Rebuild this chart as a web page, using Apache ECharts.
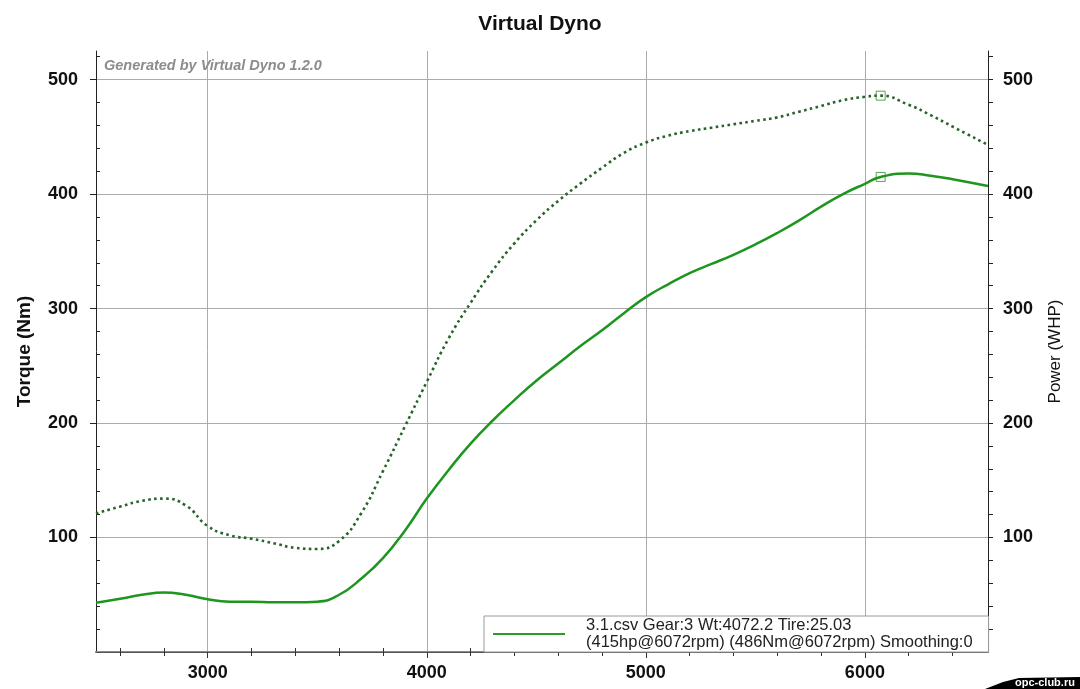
<!DOCTYPE html>
<html>
<head>
<meta charset="utf-8">
<script src="https://cdn.jsdelivr.net/npm/echarts@6/dist/echarts.min.js"></script>
<style>html,body{margin:0;padding:0;background:#fff}#c{width:1080px;height:689px}</style>
</head>
<body>
<div id="c"></div>
<script>
var rpm = [2490, 2600, 2700, 2800, 2900, 3000, 3100, 3200, 3300, 3400, 3500, 3600, 3700, 3800, 3900, 4000, 4100, 4200, 4300, 4400, 4500, 4600, 4700, 4800, 4900, 5000, 5100, 5200, 5300, 5400, 5500, 5600, 5700, 5800, 5900, 6000, 6072, 6200, 6300, 6400, 6562];
var torqueNm = [121, 127, 132, 134, 128, 110, 102, 99, 95, 91, 90, 97, 121, 158, 197, 236, 274, 305, 333, 357, 377, 394, 409, 423, 436, 445, 451, 455, 458, 461, 464, 467, 472, 477, 482, 485, 486, 478, 469, 459, 443];
var powerWhp = [43, 46.5, 50, 52, 50, 46, 44, 44, 43.5, 43.5, 44, 50, 64, 82, 106, 134, 159, 182, 202, 220, 237, 252, 267, 281, 296, 310, 321, 331, 339, 347, 356, 366, 377, 389, 400, 409, 415, 418, 416, 413, 407];
var peakRpm = [6072];
var peakTorque = [486];
var peakPower = [415];
var xMajorTicks = [3000, 4000, 5000, 6000];
var xMinorTicks = [2600, 2800, 3200, 3400, 3600, 3800, 4200, 4400, 4600, 4800, 5200, 5400, 5600, 5800, 6200, 6400];
var xAllTicks = [2600, 2800, 3000, 3200, 3400, 3600, 3800, 4000, 4200, 4400, 4600, 4800, 5000, 5200, 5400, 5600, 5800, 6000, 6200, 6400];
var yMajorTicks = [100, 200, 300, 400, 500];
var yMinorTicks = [20, 40, 60, 80, 120, 140, 160, 180, 220, 240, 260, 280, 320, 340, 360, 380, 420, 440, 460, 480, 520];
var yAllTicks = [20, 40, 60, 80, 100, 120, 140, 160, 180, 200, 220, 240, 260, 280, 300, 320, 340, 360, 380, 400, 420, 440, 460, 480, 500, 520];
var legendName = '3.1.csv Gear:3 Wt:4072.2 Tire:25.03\n(415hp@6072rpm) (486Nm@6072rpm) Smoothing:0';

function zip(a, b) { return a.map(function (v, i) { return [v, b[i]]; }); }
function plain(v) { return String(v); }

var X_MIN = 2490, X_MAX = 6562, Y_MIN = 0, Y_MAX = 525;
var FONT = 'Liberation Sans, Arial, sans-serif';

var chart = echarts.init(document.getElementById('c'), null, {renderer: 'canvas'});
chart.setOption({
  animation: false,
  backgroundColor: '#fff',
  title: {
    text: 'Virtual Dyno', left: 'center', top: 9,
    textStyle: {fontFamily: FONT, fontSize: 21, fontWeight: 'bold', color: '#111'}
  },
  grid: {left: 96, right: 92, top: 51, bottom: 37, containLabel: false, outerBoundsMode: 'none'},
  xAxis: [
    {
      type: 'value', position: 'bottom', min: X_MIN, max: X_MAX,
      axisLine: {show: true, lineStyle: {color: '#8a8a8a', width: 2}},
      axisTick: {show: true, customValues: xMajorTicks, length: 6, lineStyle: {color: '#333'}},
      axisLabel: {customValues: xMajorTicks, formatter: plain, fontFamily: FONT, fontSize: 18, fontWeight: 'bold', color: '#111', margin: 12},
      splitLine: {show: true, lineStyle: {color: '#ababab', width: 1}}
    },
    {
      type: 'value', position: 'bottom', min: X_MIN, max: X_MAX,
      axisLine: {show: false},
      axisTick: {show: true, customValues: xMinorTicks, inside: true, length: 4, lineStyle: {color: '#333'}},
      axisLabel: {show: false}, splitLine: {show: false}
    },
    {
      type: 'value', position: 'top', min: X_MIN, max: X_MAX,
      axisLine: {show: true, lineStyle: {color: '#555', width: 1}},
      axisTick: {show: true, customValues: xAllTicks, inside: true, length: 4, lineStyle: {color: '#333'}},
      axisLabel: {show: false}, splitLine: {show: false}
    }
  ],
  yAxis: [
    {
      type: 'value', position: 'left', min: Y_MIN, max: Y_MAX,
      name: 'Torque (Nm)', nameLocation: 'middle', nameGap: 62, nameRotate: 90,
      nameTextStyle: {fontFamily: FONT, fontSize: 19, fontWeight: 'bold', color: '#111'},
      axisLine: {show: true, lineStyle: {color: '#222', width: 1}},
      axisTick: {show: true, customValues: yMajorTicks, length: 6, lineStyle: {color: '#222'}},
      axisLabel: {customValues: yMajorTicks, formatter: plain, fontFamily: FONT, fontSize: 18, fontWeight: 'bold', color: '#111', margin: 18},
      splitLine: {show: true, lineStyle: {color: '#ababab', width: 1}}
    },
    {
      type: 'value', position: 'right', min: Y_MIN, max: Y_MAX,
      name: 'Power (WHP)', nameLocation: 'middle', nameGap: 59, nameRotate: 90,
      nameTextStyle: {fontFamily: FONT, fontSize: 17, color: '#111'},
      axisLine: {show: true, lineStyle: {color: '#222', width: 1}},
      axisTick: {show: true, customValues: yAllTicks, length: 5, lineStyle: {color: '#222'}},
      axisLabel: {customValues: yMajorTicks, formatter: plain, fontFamily: FONT, fontSize: 18, fontWeight: 'bold', color: '#111', margin: 15},
      splitLine: {show: false}
    },
    {
      type: 'value', position: 'left', min: Y_MIN, max: Y_MAX,
      axisLine: {show: false},
      axisTick: {show: true, customValues: yMinorTicks, inside: true, length: 4, lineStyle: {color: '#222'}},
      axisLabel: {show: false}, splitLine: {show: false}
    }
  ],
  legend: {
    data: [legendName],
    left: 484, top: 616,
    orient: 'vertical',
    icon: 'rect', itemWidth: 72, itemHeight: 2,
    padding: [1, 16, 1, 9],
    backgroundColor: '#fff', borderColor: '#9a9a9a', borderWidth: 1, borderRadius: 0,
    textStyle: {fontFamily: FONT, fontSize: 16.5, color: '#222', lineHeight: 17, padding: [0, 0, 0, 16]}
  },
  graphic: [
    {
      type: 'text', left: 104, top: 58, z: 10,
      style: {text: 'Generated by Virtual Dyno 1.2.0', fill: '#8c8c8c', font: 'italic bold 14.5px ' + FONT}
    },
    {
      type: 'group', right: 0, bottom: 0, z: 10,
      children: [
        {type: 'polygon', shape: {points: [[0, 12], [18, 5], [34, 1], [95, 0], [95, 12]]}, style: {fill: '#000'}},
        {type: 'text', x: 30, y: 0, style: {text: 'opc-club.ru', fill: '#fff', font: 'bold 11px ' + FONT}}
      ]
    }
  ],
  series: [
    {
      name: 'Torque', type: 'line', xAxisIndex: 0, yAxisIndex: 0,
      data: zip(rpm, torqueNm), symbol: 'none', smooth: 0.5,
      lineStyle: {color: '#2a632a', width: 2.6, type: [2.6, 3.4]},
      itemStyle: {color: '#2a632a'}, z: 3
    },
    {
      name: legendName, type: 'line', xAxisIndex: 0, yAxisIndex: 1,
      data: zip(rpm, powerWhp), symbol: 'none', smooth: 0.5,
      lineStyle: {color: '#1e951e', width: 2.5},
      itemStyle: {color: '#2e9a2e'}, z: 3
    },
    {
      name: 'peakT', type: 'scatter', xAxisIndex: 0, yAxisIndex: 0,
      data: zip(peakRpm, peakTorque), symbol: 'rect', symbolSize: 9,
      itemStyle: {color: 'rgba(0,0,0,0)', borderColor: '#2f8a2f', borderWidth: 1}, z: 4
    },
    {
      name: 'peakP', type: 'scatter', xAxisIndex: 0, yAxisIndex: 1,
      data: zip(peakRpm, peakPower), symbol: 'rect', symbolSize: 9,
      itemStyle: {color: 'rgba(0,0,0,0)', borderColor: '#2f8a2f', borderWidth: 1}, z: 4
    }
  ]
});
</script>
</body>
</html>
